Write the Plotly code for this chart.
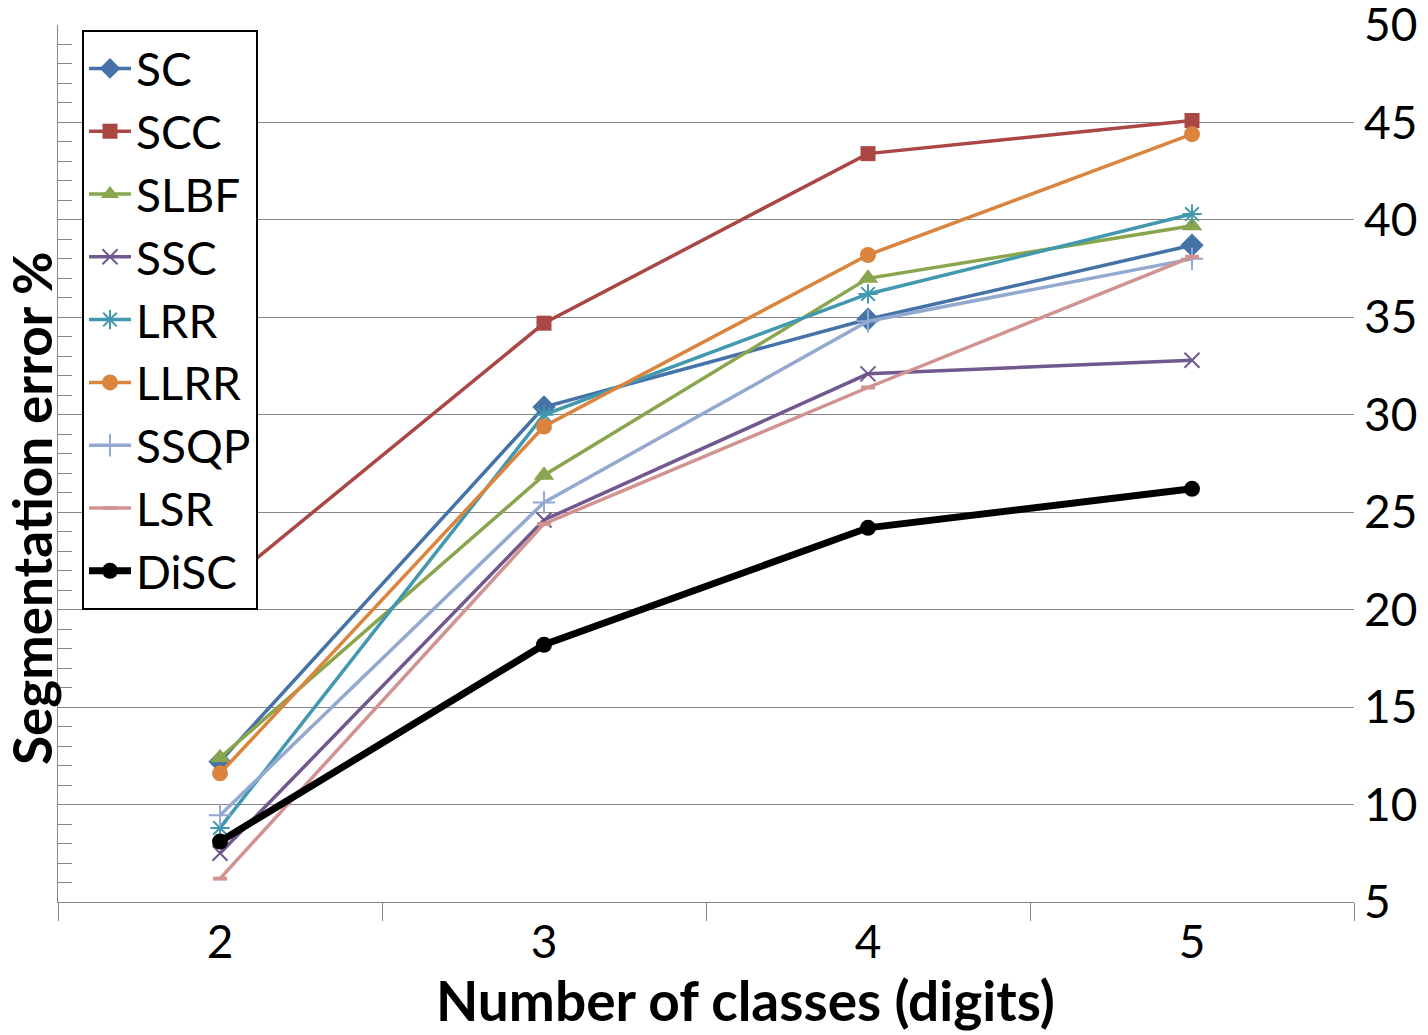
import plotly.graph_objects as go

categories = ["2", "3", "4", "5"]
SC = [12.2, 30.4, 34.9, 38.7]
SCC = [21.1, 34.7, 43.4, 45.1]
SLBF = [12.4, 26.9, 37.0, 39.7]
SSC = [7.5, 24.6, 32.1, 32.8]
LRR = [8.8, 30.0, 36.2, 40.3]
LLRR = [11.6, 29.4, 38.2, 44.4]
SSQP = [9.45, 25.5, 34.8, 38.0]
LSR = [6.2, 24.4, 31.4, 38.1]
DiSC = [8.1, 18.2, 24.2, 26.2]
y_min, y_max, y_step = 5, 50, 5

series = [
    ("SC", SC, "#4572A7", "diamond", 18, 3.5, 0),
    ("SCC", SCC, "#AA4643", "square", 15, 3.5, 0),
    ("SLBF", SLBF, "#89A54E", "triangle-up", 18, 3.5, 0),
    ("SSC", SSC, "#71588F", "x-thin-open", 15, 3.5, 2),
    ("LRR", LRR, "#4198AF", "asterisk-open", 16, 3.5, 2),
    ("LLRR", LLRR, "#DB843D", "circle", 16, 3.5, 0),
    ("SSQP", SSQP, "#93A9CF", "cross-thin-open", 16, 3.5, 2),
    ("LSR", LSR, "#D19392", "line-ew-open", 10, 3.5, 4),
    ("DiSC", DiSC, "#000000", "circle", 16, 7, 0),
]

FONT = "Lato"
OFF = 8
PL, PR, PT, PB = 58, 1354, 25, 902
W, H = 1428, 1035
PW, PH = PR - PL, PB - PT

fig = go.Figure()
for name, vals, color, sym, msize, lw, mlw in series:
    marker = dict(symbol=sym, size=msize, color=color)
    if mlw:
        marker["line"] = dict(color=color, width=mlw)
    fig.add_trace(go.Scatter(
        x=categories, y=vals, name=name, mode="lines+markers",
        line=dict(color=color, width=lw), marker=marker,
    ))

fig.add_trace(go.Scatter(x=categories, y=[None] * 4, yaxis="y2",
                         showlegend=False, hoverinfo="skip"))

fig.update_layout(
    width=W, height=H,
    margin=dict(l=PL - OFF, r=W - PR + OFF, t=PT - OFF, b=H - PB + OFF),
    paper_bgcolor="white", plot_bgcolor="white",
    font=dict(family=FONT, color="black"),
    showlegend=True,
    legend=dict(
        x=(82 - PL) / PW, y=(PB - 30) / PH, xanchor="left", yanchor="top",
        bgcolor="white", bordercolor="black", borderwidth=2,
        font=dict(family=FONT, size=46, color="black"),
        tracegroupgap=0, itemwidth=42,
    ),
    xaxis=dict(
        type="category", tickson="boundaries", range=[-0.5, 3.5],
        showgrid=False, showline=True, linecolor="#868686", linewidth=1.3,
        ticks="outside", ticklen=18, tickcolor="#868686", tickwidth=1.3,
        tickfont=dict(family=FONT, size=46, color="black"),
        zeroline=False,
    ),
    yaxis=dict(
        side="right", range=[y_min, y_max], tickmode="linear",
        tick0=y_min, dtick=y_step, automargin=False,
        ticklabeloverflow="allow", ticklabelstandoff=9,
        showgrid=True, gridcolor="#868686", gridwidth=1.3,
        showline=False, ticks="", zeroline=False,
        tickfont=dict(family=FONT, size=46, color="black"),
    ),
    yaxis2=dict(
        overlaying="y", side="left", range=[y_min, y_max],
        tick0=y_min, dtick=1, ticks="inside", ticklen=14,
        tickcolor="#868686", tickwidth=1.3,
        showline=True, linecolor="#868686", linewidth=1.3,
        showticklabels=False, showgrid=False, zeroline=False,
    ),
    annotations=[
        dict(text="<b>Number of classes (digits)</b>", xref="paper", yref="paper",
             x=(745 - PL) / PW, y=-(1000 - PB) / PH, xanchor="center", yanchor="middle",
             showarrow=False, font=dict(family=FONT, size=55, color="black")),
        dict(text="<b>Segmentation error %</b>", xref="paper", yref="paper",
             x=-(PL - 31) / PW, y=(PB - 508) / PH, xanchor="center", yanchor="middle",
             textangle=-90, showarrow=False,
             font=dict(family=FONT, size=53, color="black")),
    ],
)

fig.write_html("out.html")
